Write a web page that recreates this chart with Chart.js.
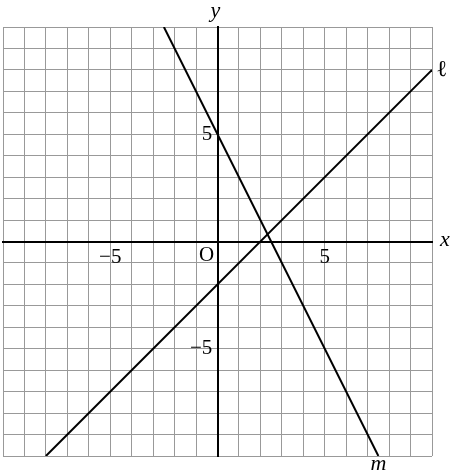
<!DOCTYPE html>
<html>
<head>
<meta charset="utf-8">
<script src="https://cdn.jsdelivr.net/npm/chart.js@4"></script>
<style>
  html, body { margin: 0; padding: 0; background: #fff; }
  #wrap { width: 462px; height: 473px; }
</style>
</head>
<body>
<div id="wrap"><canvas id="Grafico"></canvas></div>
<script>
// axis range and labelled ticks
const xRange = [-10, 10];
const yRange = [-10, 10];
const labelledTicks = [-5, 5];

// line l : endpoints
const lineL = [{x: -8, y: -10}, {x: 10, y: 8}];
// line m
const lineM = [{x: -2.5, y: 10}, {x: 7.5, y: -10}];

const serif = '"Liberation Serif", "DejaVu Serif", serif';

function tickText(v) {
    if (labelledTicks.indexOf(v) < 0) return '';
    return v < 0 ? '\u2212' + Math.abs(v) : String(v);
}

// names of axes and lines, plus the origin mark
const namesPlugin = {
    id: 'names',
    afterDraw(chart) {
        const ctx = chart.ctx;
        const xs = chart.scales.x, ys = chart.scales.y;
        const area = chart.chartArea;
        ctx.save();
        ctx.fillStyle = '#000';
        ctx.textAlign = 'center';
        ctx.textBaseline = 'middle';

        ctx.font = '21px ' + serif;
        ctx.fillText('O', xs.getPixelForValue(0) - 11, ys.getPixelForValue(0) + 14);

        ctx.font = 'italic 22px ' + serif;
        ctx.fillText('y', xs.getPixelForValue(0) - 2, area.top - 16);
        ctx.fillText('x', area.right + 13, ys.getPixelForValue(0) - 1);
        ctx.fillText('m', xs.getPixelForValue(lineM[1].x), area.bottom + 8);

        ctx.font = '23px "DejaVu Serif", serif';
        ctx.fillText('\u2113', area.right + 10, ys.getPixelForValue(lineL[1].y));
        ctx.restore();
    }
};

const contexto = document.getElementById('Grafico').getContext('2d');

const data = {
    datasets: [{
        label: 'l',
        data: lineL,
        showLine: true,
        borderColor: '#000',
        borderWidth: 2,
        pointRadius: 0
    }, {
        label: 'm',
        data: lineM,
        showLine: true,
        borderColor: '#000',
        borderWidth: 2,
        pointRadius: 0
    }]
};

const config = {
    type: 'scatter',
    data,
    options: {
        responsive: true,
        maintainAspectRatio: false,
        animation: false,
        layout: {
            padding: {left: 3, top: 27, right: 30, bottom: 17}
        },
        plugins: {
            legend: {display: false},
            tooltip: {enabled: false}
        },
        scales: {
            x: {
                type: 'linear',
                position: {y: 0},
                min: xRange[0],
                max: xRange[1],
                grid: {color: '#999', lineWidth: 1, drawTicks: false},
                border: {color: '#000', width: 2},
                ticks: {
                    stepSize: 1,
                    autoSkip: false,
                    maxRotation: 0,
                    padding: 3,
                    color: '#000',
                    font: {family: serif, size: 21},
                    callback: tickText
                }
            },
            y: {
                type: 'linear',
                position: {x: 0},
                min: yRange[0],
                max: yRange[1],
                grid: {color: '#999', lineWidth: 1, drawTicks: false},
                border: {color: '#000', width: 2},
                ticks: {
                    stepSize: 1,
                    autoSkip: false,
                    padding: 0,
                    color: '#000',
                    font: {family: serif, size: 21},
                    // trailing space keeps the label clear of the axis line
                    callback: v => tickText(v) ? tickText(v) + ' ' : ''
                }
            }
        }
    },
    plugins: [namesPlugin]
};

const Grafico = new Chart(contexto, config);
</script>
</body>
</html>
